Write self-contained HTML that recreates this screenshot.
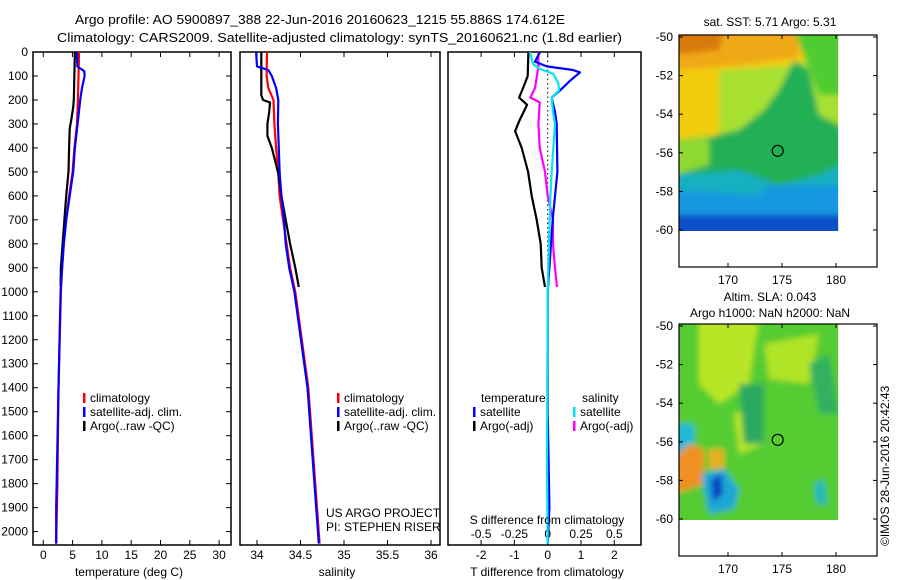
<!DOCTYPE html>
<html><head><meta charset="utf-8"><style>
body{margin:0;background:#fff;}
svg{display:block;font-family:"Liberation Sans",sans-serif;font-size:12px;}
</style></head><body>
<svg id="fig" width="900" height="580" viewBox="0 0 900 580">
<text x="75" y="24" textLength="490" lengthAdjust="spacingAndGlyphs" font-size="13">Argo profile: AO 5900897_388 22-Jun-2016 20160623_1215 55.886S 174.612E</text>
<text x="57" y="42" textLength="565" lengthAdjust="spacingAndGlyphs" font-size="13">Climatology: CARS2009. Satellite-adjusted climatology: synTS_20160621.nc (1.8d earlier)</text>
<g id="p1"></g>
<g id="p2"></g>
<g id="p3"></g>
<g id="m1"></g>
<g id="m2"></g>
<text transform="translate(889,546) rotate(-90)" font-size="12">©IMOS 28-Jun-2016 20:42:43</text>
</svg>
<script>
// ---- data ----
const depthTicks=[0,100,200,300,400,500,600,700,800,900,1000,1100,1200,1300,1400,1500,1600,1700,1800,1900,2000];
const tTicks=[0,5,10,15,20,25,30];
const sTicks=[34,34.5,35,35.5,36];
const sTickLabels=["34","34.5","35","35.5","36"];
const dTTicks=[-2,-1,0,1,2];
const dSTicks=[-0.5,-0.25,0,0.25,0.5];
const dSTickLabels=["-0.5","-0.25","0","0.25","0.5"];

const tClimDepth=[0,100,200,300,400,500,600,700,800,900,1000,1400,1800,2050];
const tClim=[6.1,6.0,5.9,5.75,5.3,5.0,4.4,3.9,3.5,3.2,3.0,2.6,2.4,2.2];
const tSatDepth=[0,60,80,100,150,200,300,400,500,600,700,800,900,1000,1400,1900,2050];
const tSat=[5.75,5.8,7.0,7.05,6.6,6.3,5.85,5.4,5.1,4.5,3.9,3.5,3.2,2.95,2.6,2.2,2.2];
const tArgoDepth=[0,200,230,280,320,400,500,600,700,800,900,980];
const tArgo=[5.4,5.2,5.1,4.8,4.5,4.4,4.3,3.9,3.6,3.3,3.0,2.95];

const sClimDepth=[0,100,150,200,300,400,500,600,700,800,900,1000,1400,2050];
const sClim=[34.115,34.11,34.13,34.19,34.2,34.22,34.245,34.26,34.3,34.34,34.38,34.44,34.59,34.72];
const sSatDepth=[0,60,75,100,150,200,300,400,500,600,700,800,900,1000,1400,2050];
const sSat=[33.99,34.0,34.13,34.17,34.22,34.245,34.24,34.25,34.26,34.28,34.31,34.33,34.37,34.43,34.58,34.71];
const sArgoDepth=[0,180,200,210,250,300,350,400,500,600,700,800,900,980];
const sArgo=[34.05,34.05,34.07,34.15,34.14,34.12,34.12,34.17,34.24,34.28,34.33,34.38,34.44,34.48];

const dTSatDepth=[0,40,60,75,85,120,160,190,250,300,500,600,700,800,900,1000,1500,1900,2050];
const dTSat=[-0.23,-0.38,-0.03,0.76,0.97,0.67,0.37,0.12,0.22,0.27,0.29,0.22,0.15,0.1,0.05,0,0,0.05,0];
const dTArgoDepth=[0,100,150,190,220,280,330,400,500,600,700,800,900,980];
const dTArgo=[-0.58,-0.6,-0.74,-0.86,-0.62,-0.83,-0.98,-0.78,-0.59,-0.48,-0.33,-0.21,-0.18,-0.08];
const dSSatDepth=[0,50,70,90,130,160,190,250,300,500,600,800,1000,1700,2050];
const dSSat=[-0.133,-0.11,-0.06,0.04,0.08,0.085,0.03,0.04,0.055,0.03,0.02,0.01,0,-0.005,0];
const dSArgoDepth=[0,60,150,190,210,300,400,500,600,700,800,900,980];
const dSArgo=[-0.07,-0.07,-0.095,-0.13,-0.06,-0.07,-0.06,-0.02,0,0.04,0.04,0.055,0.07];

const lonTicks=[170,175,180];
const latTicks=[-50,-52,-54,-56,-58,-60];
const argoLon=[174.6];
const argoLat=[-55.9];

// ---- helpers ----
const NS="http://www.w3.org/2000/svg";
function mk(parent,tag,attrs){const e=document.createElementNS(NS,tag);for(const k in attrs)e.setAttribute(k,attrs[k]);parent.appendChild(e);return e;}
const y=d=>52+0.2398*d;
const xT=v=>43.3+5.86*v;
const xS=v=>257+87*(v-34);
const xdT=v=>547.7+33.3*v;
const xdS=v=>547.7+133.2*v;
const BOT=545;

function frame(g,x0,x1){
  const r=mk(g,'rect',{x:x0,y:52,width:x1-x0,height:BOT-52,fill:'none',stroke:'#000','stroke-width':1.5});
  
  
}
function xticks(g,vals,labels,fx,ly){
  vals.forEach((v,i)=>{const x=fx(v);
    mk(g,'line',{x1:x,x2:x,y1:BOT,y2:BOT-5,stroke:'#000'});
    mk(g,'line',{x1:x,x2:x,y1:52,y2:57,stroke:'#000'});
    const t=mk(g,'text',{x:x,y:ly,'text-anchor':'middle'});t.textContent=labels[i];
    
    
  });
}
function profile(g,xs,ds,fx,col,name,w){
  const pts=xs.map((v,i)=>{const px=fx(v),py=y(ds[i]);return (i?'L':'M')+px.toFixed(1)+','+py.toFixed(1);}).join('');
  const p=mk(g,'path',{d:pts,fill:'none',stroke:col,'stroke-width':w||2.2,'stroke-linejoin':'round'});
  
  
}
function legend(g,x,yy,col,label){
  mk(g,'rect',{x:x,y:yy-9,width:2.5,height:10,fill:col});
  const t=mk(g,'text',{x:x+7,y:yy});t.textContent=label;
  
  
}
function label(g,x,yy,txt,name,anchor){const t=mk(g,'text',{x:x,y:yy,'text-anchor':anchor||'start'});t.textContent=txt;
  
  
  return t;}

// ---- panel 1 ----
const p1=document.getElementById('p1');
frame(p1,33,231);
depthTicks.forEach(d=>{const yy=y(d);
  mk(p1,'line',{x1:33,x2:38,y1:yy,y2:yy,stroke:'#000'});
  mk(p1,'line',{x1:231,x2:226,y1:yy,y2:yy,stroke:'#000'});
  const t=mk(p1,'text',{x:28,y:yy+4,'text-anchor':'end'});t.textContent=d;
  
  
});
xticks(p1,tTicks,tTicks.map(String),xT,559);
profile(p1,tClim,tClimDepth,xT,'#f00','temp-climatology-line');
profile(p1,tArgo,tArgoDepth,xT,'#000','temp-argo-line');
profile(p1,tSat,tSatDepth,xT,'#0000ff','temp-satellite-line');
legend(p1,83,402,'#f00','climatology');
legend(p1,83,416,'#0000ff','satellite-adj. clim.');
legend(p1,83,430,'#000','Argo(..raw -QC)');
label(p1,129,576,'temperature (deg C)','x-axis-title','middle');

// ---- panel 2 ----
const p2=document.getElementById('p2');
frame(p2,240,440);
xticks(p2,sTicks,sTickLabels,xS,559);
profile(p2,sClim,sClimDepth,xS,'#f00','sal-climatology-line');
profile(p2,sArgo,sArgoDepth,xS,'#000','sal-argo-line');
profile(p2,sSat,sSatDepth,xS,'#0000ff','sal-satellite-line');
legend(p2,337,402,'#f00','climatology');
legend(p2,337,416,'#0000ff','satellite-adj. clim.');
legend(p2,337,430,'#000','Argo(..raw -QC)');
label(p2,326,517,'US ARGO PROJECT','project-label');
label(p2,326,531,'PI: STEPHEN RISER','pi-label');
label(p2,337,576,'salinity','x-axis-title','middle');

// ---- panel 3 ----
const p3=document.getElementById('p3');
frame(p3,448,641);
xticks(p3,dTTicks,dTTicks.map(String),xdT,559);
dSTicks.forEach((v,i)=>{const t=mk(p3,'text',{x:xdS(v),y:538,'text-anchor':'middle'});t.textContent=dSTickLabels[i];
  
  });
mk(p3,'line',{x1:xdT(0),x2:xdT(0),y1:56,y2:y(1000),stroke:'#000','stroke-dasharray':'1.5,3'});
profile(p3,dTArgo,dTArgoDepth,xdT,'#000','dt-argo-line');
profile(p3,dSArgo,dSArgoDepth,xdS,'#ff00ff','ds-argo-line');
profile(p3,dTSat,dTSatDepth,xdT,'#0000ff','dt-satellite-line');
profile(p3,dSSat,dSSatDepth,xdS,'#00e5ee','ds-satellite-line');
label(p3,481,402,'temperature','legend-title-temperature');
label(p3,582,402,'salinity','legend-title-salinity');
legend(p3,473,416,'#0000ff','satellite');
legend(p3,573,416,'#00e5ee','satellite');
legend(p3,473,430,'#000','Argo(-adj)');
legend(p3,573,430,'#ff00ff','Argo(-adj)');
label(p3,547,524,'S difference from climatology','s-axis-title','middle');
label(p3,547,576,'T difference from climatology','x-axis-title','middle');

// ---- maps ----
function map(id,top,draw,title){
  const g=document.getElementById(id);
  const L=679,R=877,B=top+232;
  const lx=v=>728+10.8*(v-170);
  const ly=v=>top+2+19.3*(-50-v);
  const clip='clip'+id;
  const defs=mk(g,'defs',{});
  const cp=mk(defs,'clipPath',{id:clip});mk(cp,'rect',{x:L,y:top,width:lx(180.2)-L,height:ly(-60.05)-top});
  const f=mk(defs,'filter',{id:'bl'+id,x:'-10%',y:'-10%',width:'120%',height:'120%'});mk(f,'feGaussianBlur',{stdDeviation:3});
  const cg=mk(g,'g',{'clip-path':'url(#'+clip+')'});
  
  
  const fg=mk(cg,'g',{filter:'url(#bl'+id+')'});
  draw(fg,L,top);
  mk(g,'rect',{x:L,y:top,width:R-L,height:B-top,fill:'none',stroke:'#000','stroke-width':1.2});
  lonTicks.forEach(v=>{mk(g,'line',{x1:lx(v),x2:lx(v),y1:B,y2:B-4,stroke:'#000'});mk(g,'line',{x1:lx(v),x2:lx(v),y1:top,y2:top+4,stroke:'#000'});
    const t=mk(g,'text',{x:lx(v),y:B+17,'text-anchor':'middle'});t.textContent=v;
    
    });
  latTicks.forEach(v=>{mk(g,'line',{x1:L,x2:L+4,y1:ly(v),y2:ly(v),stroke:'#000'});mk(g,'line',{x1:R,x2:R-4,y1:ly(v),y2:ly(v),stroke:'#000'});
    const t=mk(g,'text',{x:673,y:ly(v)+4,'text-anchor':'end'});t.textContent=v;
    
    });
  argoLon.forEach((v,i)=>{const c=mk(g,'circle',{cx:lx(v),cy:ly(argoLat[i]),r:5.5,fill:'none',stroke:'#000','stroke-width':1.2});
    
    });
  title.forEach((tt,i)=>{const t=mk(g,'text',{x:tt[1],y:tt[2],'text-anchor':'middle'});t.textContent=tt[0];
    
    });
}
function poly(g,pts,col,ox,oy){mk(g,'polygon',{points:pts.map(p=>(p[0]+ox)+','+(p[1]+oy)).join(' '),fill:col});}
map('m1',35,(g,ox,oy)=>{
  poly(g,[[-5,-5],[170,-5],[170,205],[-5,205]],'#f2cc10',ox,oy);
  poly(g,[[-5,-5],[120,-5],[120,22],[60,30],[-5,35]],'#f0a818',ox,oy);
  poly(g,[[-5,-5],[45,-5],[40,15],[-5,20]],'#d87a10',ox,oy);
  poly(g,[[40,35],[120,30],[160,-5],[170,-5],[170,130],[40,120]],'#a8e030',ox,oy);
  poly(g,[[115,-5],[170,-5],[170,60],[140,60]],'#50cc30',ox,oy);
  poly(g,[[-5,110],[60,95],[85,75],[100,55],[115,25],[130,35],[140,80],[170,95],[170,205],[-5,205]],'#22b055',ox,oy);
  poly(g,[[-5,105],[30,100],[30,130],[-5,140]],'#90d830',ox,oy);
  poly(g,[[-5,140],[60,135],[100,150],[140,140],[170,125],[170,205],[-5,205]],'#18b0c0',ox,oy);
  poly(g,[[-5,155],[80,160],[90,150],[130,150],[170,150],[170,205],[-5,205]],'#1898e0',ox,oy);
  poly(g,[[-5,180],[170,180],[170,205],[-5,205]],'#1050c8',ox,oy);
},[["sat. SST: 5.71  Argo: 5.31",770,26]]);
map('m2',324,(g,ox,oy)=>{
  poly(g,[[-5,-5],[170,-5],[170,205],[-5,205]],'#55cc30',ox,oy);
  poly(g,[[20,-5],[80,-5],[70,60],[40,80],[20,60]],'#b8e628',ox,oy);
  poly(g,[[85,20],[140,10],[130,60],[90,55]],'#b0e428',ox,oy);
  poly(g,[[55,90],[80,80],[85,120],[60,130]],'#b8e628',ox,oy);
  poly(g,[[130,40],[150,30],[160,90],[140,90]],'#30b060',ox,oy);
  poly(g,[[60,60],[85,60],[85,120],[65,120]],'#2aaa60',ox,oy);
  poly(g,[[-5,100],[15,100],[15,135],[-5,140]],'#22b8d8',ox,oy);
  poly(g,[[-5,135],[10,120],[25,125],[25,160],[-5,170]],'#f09020',ox,oy);
  poly(g,[[30,125],[45,125],[45,145],[30,145]],'#e8b020',ox,oy);
  poly(g,[[22,150],[45,145],[60,165],[55,185],[30,190]],'#1aa8d8',ox,oy);
  poly(g,[[32,155],[42,150],[44,170],[34,178]],'#1040c0',ox,oy);
  poly(g,[[135,160],[145,155],[148,180],[138,180]],'#20b8c0',ox,oy);
},[["Altim. SLA: 0.043",770,301],["Argo h1000: NaN h2000: NaN",770,317]]);
</script>
</body></html>
